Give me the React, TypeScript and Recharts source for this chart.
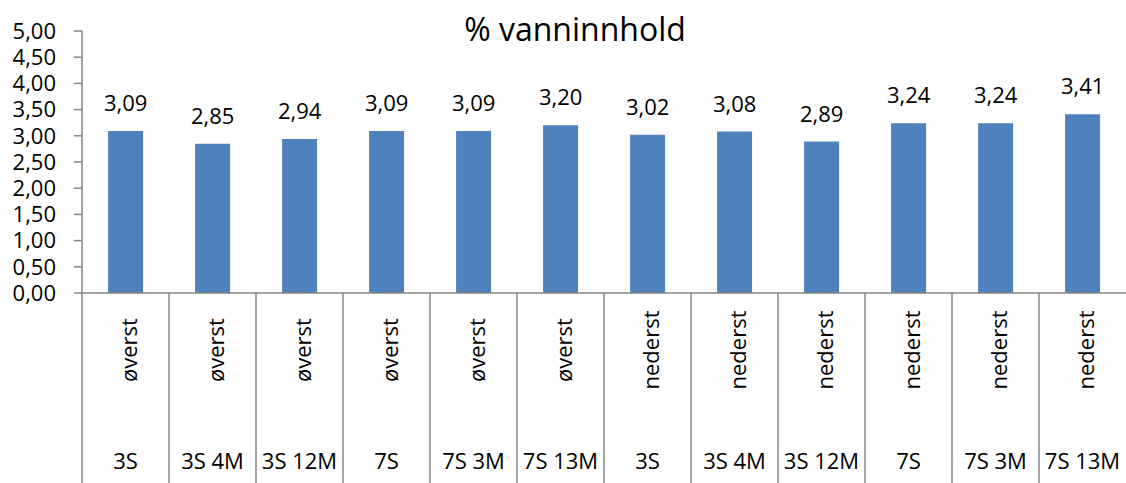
import React from 'react';
import { BarChart, Bar, XAxis, YAxis, LabelList } from 'recharts';

const positions = ['øverst', 'øverst', 'øverst', 'øverst', 'øverst', 'øverst', 'nederst', 'nederst', 'nederst', 'nederst', 'nederst', 'nederst'];
const samples = ['3S', '3S 4M', '3S 12M', '7S', '7S 3M', '7S 13M', '3S', '3S 4M', '3S 12M', '7S', '7S 3M', '7S 13M'];
const water = [3.09, 2.85, 2.94, 3.09, 3.09, 3.2, 3.02, 3.08, 2.89, 3.24, 3.24, 3.41];
const yTicks = [0, 0.5, 1, 1.5, 2, 2.5, 3, 3.5, 4, 4.5, 5];

const data = water.map((v, i) => ({ key: String(i), pos: positions[i], sample: samples[i], value: v }));

const W = 1126;
const H = 483;
const Y_AXIS_W = 82;
const X_AXIS_H = 190;
const TOP = 31;
const BAND = (W - Y_AXIS_W) / data.length;
const AXIS_Y = H - X_AXIS_H;
const FONT = '"Open Sans", "DejaVu Sans", sans-serif';
const GREY = '#868686';

const comma = (v: number) => v.toFixed(2).replace('.', ',');

// two-level category tick: rotated position label on top, sample name below, separators between
const CatTick = (props: any) => {
  const { x, payload } = props;
  const d = data[payload.index] ?? data.find((r) => r.key === payload.value);
  const left = x - BAND / 2;
  return (
    <g>
      <line x1={left} x2={left} y1={AXIS_Y} y2={H} stroke={GREY} strokeWidth={1.5} />
      <text
        x={x + 2}
        y={350}
        transform={`rotate(-90, ${x + 2}, 350)`}
        textAnchor="middle"
        dominantBaseline="central"
        fontFamily={FONT}
        fontSize={22}
        fill="#000"
      >
        {d?.pos}
      </text>
      <text x={x} y={460} textAnchor="middle" dominantBaseline="central" fontFamily={FONT} fontSize={22} fill="#000">
        {d?.sample}
      </text>
    </g>
  );
};

export default function App() {
  return (
    <div style={{ position: 'absolute', left: 0, top: 0, width: W, height: H, background: '#fff' }}>
      <div
        style={{
          position: 'absolute',
          left: 0,
          width: 1150,
          top: 9,
          textAlign: 'center',
          fontFamily: FONT,
          fontSize: 32,
          lineHeight: '40px',
          color: '#000',
        }}
      >
        % vanninnhold
      </div>
      <BarChart
        width={W}
        height={H}
        data={data}
        margin={{ top: TOP, right: 0, bottom: 0, left: 0 }}
        barCategoryGap="30%"
      >
        <XAxis
          dataKey="key"
          height={X_AXIS_H}
          interval={0}
          tickLine={false}
          axisLine={{ stroke: GREY, strokeWidth: 1.5 }}
          tick={<CatTick />}
        />
        <YAxis
          width={Y_AXIS_W}
          domain={[0, 5]}
          ticks={yTicks}
          interval={0}
          tickSize={8}
          tickMargin={18}
          tickFormatter={comma}
          axisLine={{ stroke: GREY, strokeWidth: 1.5 }}
          tickLine={{ stroke: GREY, strokeWidth: 1.5 }}
          tick={{ fill: '#000', fontSize: 22, fontFamily: FONT }}
        />
        <Bar dataKey="value" fill="#4F81BD" isAnimationActive={false}>
          <LabelList
            dataKey="value"
            position="top"
            offset={20}
            formatter={(v: any) => comma(Number(v))}
            style={{ fill: '#000', fontSize: 22, fontFamily: FONT }}
          />
        </Bar>
      </BarChart>
    </div>
  );
}
